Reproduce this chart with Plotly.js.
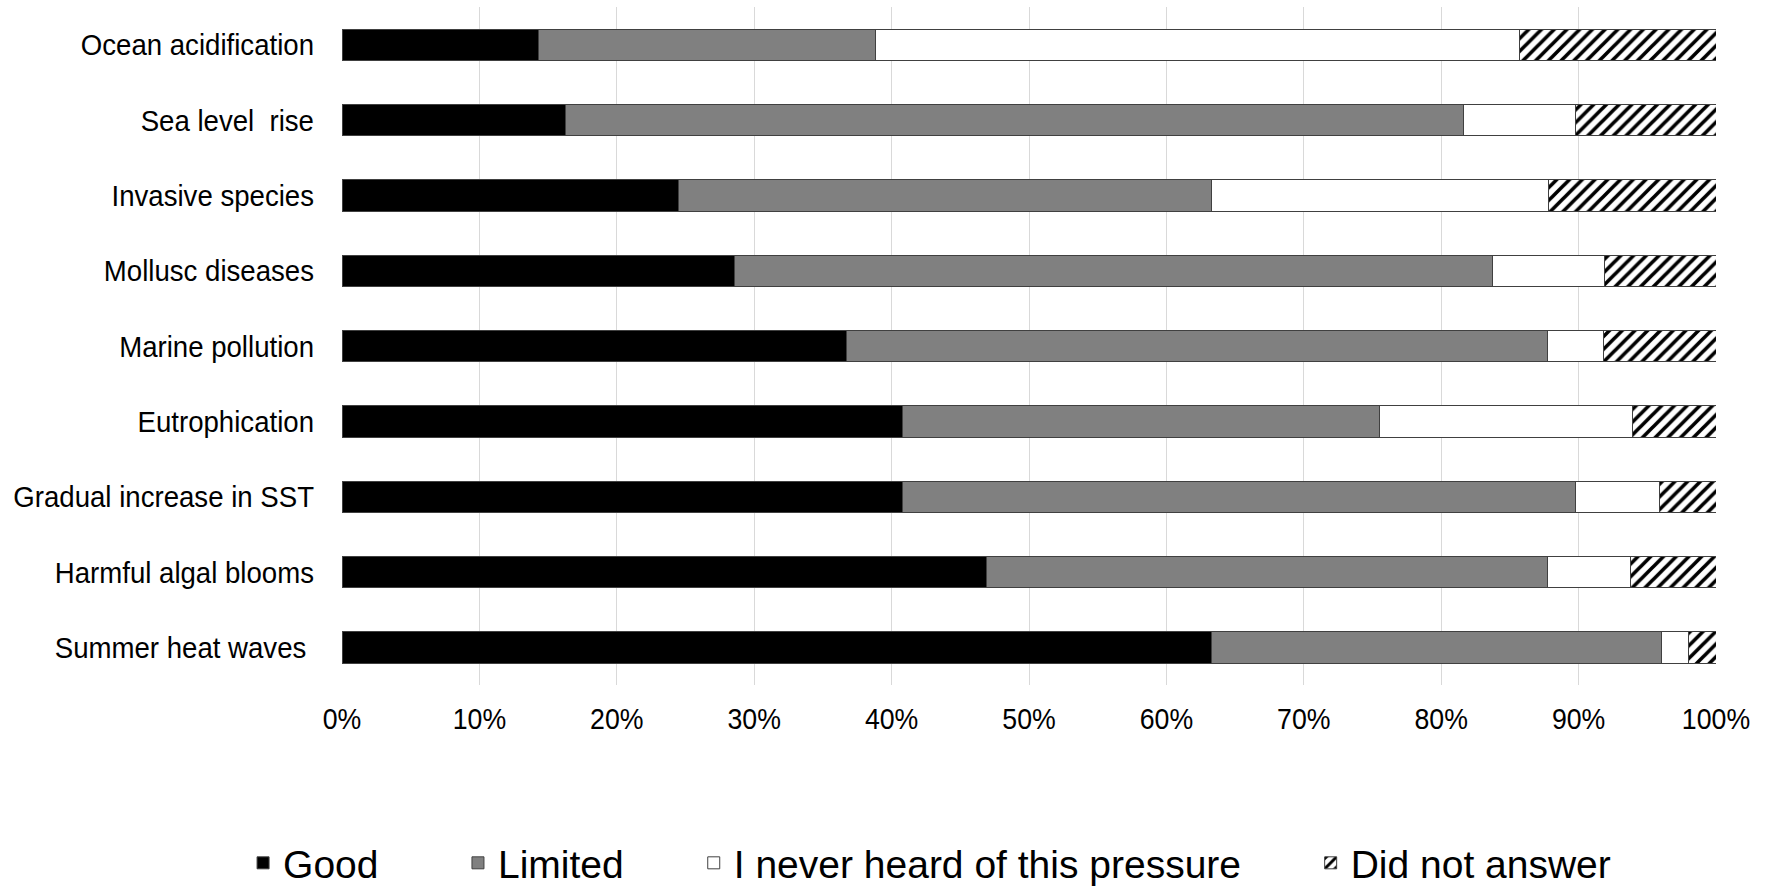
<!DOCTYPE html>
<html>
<head>
<meta charset="utf-8">
<script src="https://cdn.plot.ly/plotly-3.0.1.min.js"></script>
<style>
  html, body { margin: 0; padding: 0; background: #ffffff; }
  #chart { width: 1771px; height: 887px; }
</style>
</head>
<body>
<div id="chart"></div>
<script>
// Perceived knowledge of each pressure (% of respondents)
const categories = [
  'Ocean acidification',
  'Sea level\u00a0\u00a0rise',
  'Invasive species',
  'Mollusc diseases',
  'Marine pollution',
  'Eutrophication',
  'Gradual increase in SST',
  'Harmful algal blooms',
  'Summer heat waves\u00a0'
];
const good       = [14.3, 16.3, 24.5, 28.6, 36.7, 40.8, 40.8, 46.9, 63.3];
const limited    = [24.5, 65.3, 38.8, 55.1, 51.0, 34.7, 49.0, 40.8, 32.7];
const neverHeard = [46.9,  8.2, 24.5,  8.2,  4.1, 18.4,  6.1,  6.1,  2.0];
const noAnswer   = [14.3, 10.2, 12.2,  8.1,  8.2,  6.1,  4.1,  6.2,  2.0];
const seriesNames = ['Good', 'Limited', 'I never heard of this pressure', 'Did not answer'];
const tickVals = [0, 10, 20, 30, 40, 50, 60, 70, 80, 90, 100];
const tickText = tickVals.map(v => v + '%');

const outline = { color: '#404040', width: 1 };
const axisFont = { family: '"Liberation Sans", Arial, sans-serif', size: 30, color: '#000000' };
const legendFont = { family: '"Liberation Sans", Arial, sans-serif', size: 39, color: '#000000' };
// Axis labels use a narrow face; squeeze the glyphs horizontally by these factors
const X_LABEL_SQUEEZE = 0.89;
const Y_LABEL_SQUEEZE = 0.92;

function barTrace(values, name, marker, legendId) {
  return {
    type: 'bar',
    orientation: 'h',
    y: categories,
    x: values,
    name: name,
    legend: legendId,
    marker: Object.assign({ line: outline }, marker),
    hovertemplate: '%{y}: %{x:.1f}%<extra>' + name + '</extra>'
  };
}

const traces = [
  barTrace(good, seriesNames[0], { color: '#000000' }, 'legend'),
  barTrace(limited, seriesNames[1], { color: '#808080' }, 'legend2'),
  barTrace(neverHeard, seriesNames[2], { color: '#ffffff' }, 'legend3'),
  barTrace(noAnswer, seriesNames[3], {
    color: '#ffffff',
    pattern: { shape: '/', fgcolor: '#000000', bgcolor: '#ffffff', size: 9, solidity: 0.4 }
  }, 'legend4')
];

function legendAt(x) {
  return {
    x: x, xanchor: 'left',
    y: -0.2625, yanchor: 'middle',
    orientation: 'h',
    font: legendFont,
    bgcolor: 'rgba(0,0,0,0)',
    borderwidth: 0
  };
}

const layout = {
  width: 1771,
  height: 887,
  margin: { l: 342, r: 55, t: 7, b: 202, autoexpand: false },
  paper_bgcolor: '#ffffff',
  plot_bgcolor: '#ffffff',
  barmode: 'stack',
  bargap: 0.584,
  showlegend: true,
  xaxis: {
    range: [0, 100],
    tickvals: tickVals,
    ticktext: tickText,
    showgrid: true,
    gridcolor: '#d9d9d9',
    gridwidth: 1,
    zeroline: false,
    showline: false,
    ticks: 'outside',
    ticklen: 7,
    tickcolor: 'rgba(0,0,0,0)',
    tickfont: axisFont,
    fixedrange: true
  },
  yaxis: {
    type: 'category',
    autorange: 'reversed',
    showgrid: false,
    zeroline: false,
    showline: false,
    ticks: 'outside',
    ticklen: 21,
    tickcolor: 'rgba(0,0,0,0)',
    tickfont: axisFont,
    fixedrange: true
  },
  legend: legendAt(-0.072),
  legend2: legendAt(0.0844),
  legend3: legendAt(0.256),
  legend4: legendAt(0.705)
};

// Narrow the axis tick labels while keeping their anchors in place
function squeezeLabels(selector, factor) {
  document.querySelectorAll(selector).forEach(function (t) {
    t.removeAttribute('textLength');
    const natural = t.getComputedTextLength();
    t.setAttribute('lengthAdjust', 'spacingAndGlyphs');
    t.setAttribute('textLength', (natural * factor).toFixed(2));
  });
}
function squeezeAxisLabels() {
  squeezeLabels('#chart .xtick text', X_LABEL_SQUEEZE);
  squeezeLabels('#chart .ytick text', Y_LABEL_SQUEEZE);
}

Plotly.newPlot('chart', traces, layout, { displayModeBar: false }).then(function (gd) {
  squeezeAxisLabels();
  gd.on('plotly_afterplot', squeezeAxisLabels);
});
</script>
</body>
</html>
